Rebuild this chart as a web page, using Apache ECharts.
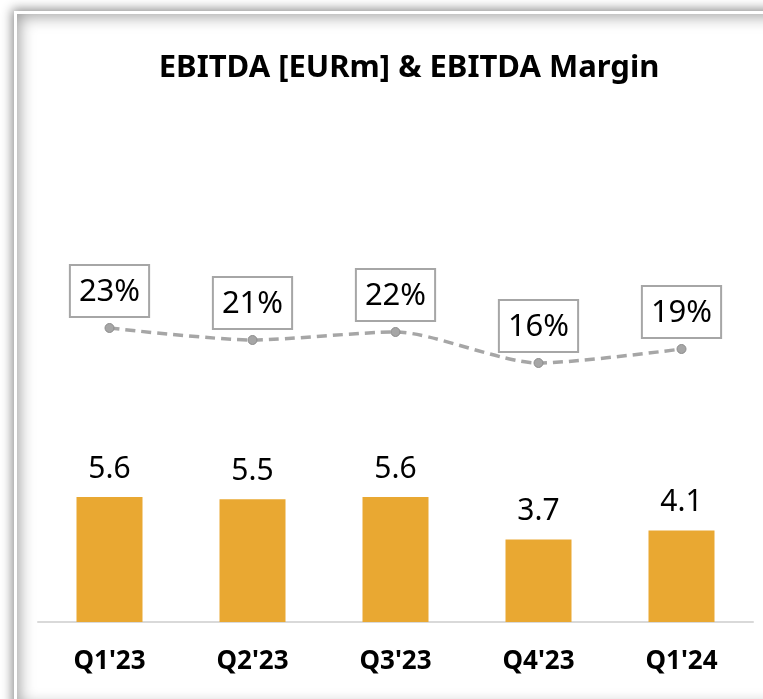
<!DOCTYPE html>
<html>
<head>
<meta charset="utf-8">
<script src="https://cdn.jsdelivr.net/npm/echarts@6/dist/echarts.min.js"></script>
<style>
  html, body { margin: 0; padding: 0; background: #fff; overflow: hidden; }
  #frame {
    position: absolute; left: 14px; top: 11px; width: 800px; height: 694px;
    border: 3px solid #fff;
    box-shadow: 0 0 10px 2px rgba(0,0,0,0.45), inset 0 0 16px 2px rgba(0,0,0,0.4);
  }
  #main { position: absolute; left: 0; top: 0; width: 763px; height: 699px; }
</style>
</head>
<body>
<div id="frame"></div>
<div id="main"></div>
<script>
// quarters on the x axis
var quarters = ["Q1'23", "Q2'23", "Q3'23", "Q4'23", "Q1'24"];
// EBITDA in EURm
var ebitda = [5.6, 5.5, 5.6, 3.7, 4.1];
// EBITDA margin in %
var margin = [23.2, 20.8, 22.4, 16.2, 19.0];

var chart = echarts.init(document.getElementById('main'), null, { renderer: 'canvas' });

var option = {
  backgroundColor: 'transparent',
  animation: false,
  title: {
    text: 'EBITDA [EURm] & EBITDA Margin',
    left: 404,
    textAlign: 'center',
    top: 48,
    textStyle: {
      fontFamily: 'Noto Sans',
      fontWeight: 'bold',
      fontSize: 31,
      color: '#000'
    }
  },
  grid: { left: 38, right: 10, top: 122, bottom: 77 },
  xAxis: {
    type: 'category',
    data: quarters,
    axisLine: { lineStyle: { color: '#d9d9d9', width: 2 } },
    axisTick: { show: false },
    axisLabel: {
      margin: 27,
      fontFamily: 'Noto Sans',
      fontWeight: 'bold',
      fontSize: 26,
      color: '#000'
    }
  },
  yAxis: [
    { type: 'value', min: 0, max: 22.4, show: false },
    { type: 'value', min: -35.6, max: 64.4, show: false }
  ],
  series: [
    {
      name: 'EBITDA',
      type: 'bar',
      data: ebitda,
      barWidth: 66,
      itemStyle: { color: '#e9a832' },
      label: {
        show: true,
        position: 'top',
        distance: 13,
        fontFamily: 'Noto Sans',
        fontSize: 30,
        color: '#000',
        formatter: function (p) { return p.value.toFixed(1); }
      }
    },
    {
      name: 'EBITDA Margin',
      type: 'line',
      yAxisIndex: 1,
      data: margin,
      smooth: 0.25,
      symbol: 'circle',
      symbolSize: 9,
      itemStyle: { color: '#a6a6a6', borderColor: '#8c8c8c', borderWidth: 1 },
      lineStyle: { color: '#a6a6a6', width: 3.5, type: [10, 6] },
      label: {
        show: true,
        position: 'top',
        distance: 7,
        fontFamily: 'Noto Sans',
        fontSize: 31,
        lineHeight: 32,
        color: '#000',
        backgroundColor: '#fff',
        borderColor: '#a6a6a6',
        borderWidth: 2,
        padding: [10, 8, 8, 8],
        formatter: function (p) { return Math.round(p.value) + '%'; }
      }
    }
  ]
};

chart.setOption(option);
</script>
</body>
</html>
